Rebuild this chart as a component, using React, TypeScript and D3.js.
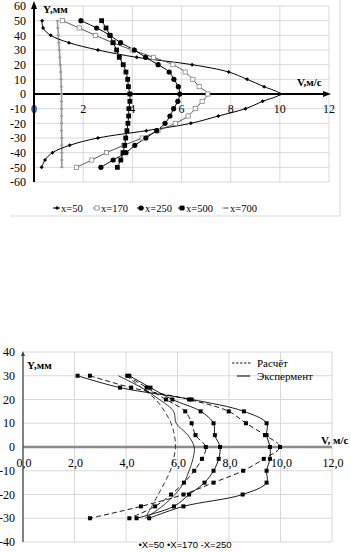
import React from "react";
import * as d3 from "d3";

// ---------- Top chart data ----------
const topY = [50, 45, 40, 35, 30, 25, 20, 15, 10, 5, 0, -5, -10, -15, -20, -25, -30, -35, -40, -45, -50];
const topX50 = [0.33, 0.37, 0.68, 1.42, 2.6, 4.18, 6.43, 7.92, 8.67, 9.36, 10.0, 9.3, 8.6, 7.5, 6.38, 4.57, 2.6, 1.45, 0.75, 0.45, 0.31];
const topX170 = [1.15, 1.84, 2.5, 3.2, 4.0, 4.86, 5.65, 6.15, 6.46, 6.72, 7.07, 6.84, 6.56, 6.27, 5.75, 5.04, 4.4, 3.65, 2.95, 2.35, 1.73];
const topX250 = [1.91, 2.55, 3.09, 3.52, 4.08, 4.54, 5.05, 5.5, 5.69, 5.87, 5.93, 5.85, 5.68, 5.53, 5.33, 4.99, 4.55, 4.1, 3.74, 3.22, 2.72];
const topX500 = [2.75, 2.93, 3.09, 3.22, 3.36, 3.47, 3.63, 3.74, 3.81, 3.84, 3.9, 3.9, 3.86, 3.85, 3.82, 3.78, 3.73, 3.69, 3.62, 3.53, 3.39];
const topX700 = [0.95, 0.97, 0.99, 1.01, 1.03, 1.05, 1.07, 1.09, 1.1, 1.11, 1.12, 1.12, 1.12, 1.12, 1.12, 1.12, 1.13, 1.13, 1.13, 1.13, 1.13];
const topXTicks = [0, 2, 4, 6, 8, 10, 12];
const topYTicks = [60, 50, 40, 30, 20, 10, 0, -10, -20, -30, -40, -50, -60];
const topLegend = ["x=50", "x=170", "x=250", "x=500", "x=700"];

// ---------- Bottom chart data ----------
const botY = [30, 25, 20, 15, 10, 5, 0, -5, -10, -15, -20, -25, -30];
const bot50Exp = [2.12, 3.77, 6.55, 8.58, 9.46, 9.46, 9.59, 9.59, 9.46, 9.46, 8.53, 6.23, 4.9];
const bot50Calc = [2.6, 4.2, 6.45, 7.99, 8.66, 9.4, 9.98, 9.35, 8.55, 7.4, 6.23, 4.58, 2.6];
const bot170Exp = [4.13, 4.95, 5.8, 6.9, 7.4, 7.45, 7.65, 7.6, 7.4, 7.05, 6.45, 5.86, 4.41];
const bot170Calc = [4.05, 4.8, 5.55, 6.3, 6.55, 6.7, 7.1, 6.95, 6.65, 6.25, 5.75, 5.13, 4.13];
const bot250Exp = [3.7, 4.6, 5.3, 5.85, 5.95, 6.4, 6.65, 6.6, 6.45, 6.25, 5.9, 5.4, 4.75];
const bot250Calc = [4.0, 4.6, 5.15, 5.5, 5.75, 5.88, 5.92, 5.85, 5.72, 5.5, 5.25, 5.0, 4.74];
const botXTicks = [0, 2, 4, 6, 8, 10, 12];
const botYTicks = [40, 30, 20, 10, 0, -10, -20, -30, -40];
const botLegend = ["Расчёт", "Экспермент"];
const botBottomLegend = "•X=50 •X=170 -X=250";

const SERIF = "'Liberation Serif', 'Times New Roman', serif";
const SANS = "'Liberation Sans', Arial, sans-serif";
const GRID = "#d9d9d9";

function pts(xs: number[], ys: number[]) {
  return xs.map((v, i) => [v, ys[i]] as [number, number]);
}

export default function App() {
  // top scales
  const tx = d3.scaleLinear().domain([0, 12]).range([34, 329]);
  const ty = d3.scaleLinear().domain([-60, 60]).range([182, 6]);
  const tline = d3
    .line<[number, number]>()
    .x((d) => tx(d[0]))
    .y((d) => ty(d[1]))
    .curve(d3.curveCatmullRom.alpha(0.5));

  // bottom scales
  const bx = d3.scaleLinear().domain([0, 12]).range([23, 332]);
  const by = d3.scaleLinear().domain([-40, 40]).range([542, 352]);
  const bline = d3
    .line<[number, number]>()
    .x((d) => bx(d[0]))
    .y((d) => by(d[1]))
    .curve(d3.curveCatmullRom.alpha(0.5));

  const diamond = (cx: number, cy: number, s: number, key: string, fill = "#000") => (
    <path key={key} d={`M${cx},${cy - s}L${cx + s},${cy}L${cx},${cy + s}L${cx - s},${cy}Z`} fill={fill} />
  );

  const t50 = pts(topX50, topY);
  const t170 = pts(topX170, topY);
  const t250 = pts(topX250, topY);
  const t500 = pts(topX500, topY);
  const t700 = pts(topX700, topY);

  const legX = [57, 97, 141, 182, 226];

  const b50e = pts(bot50Exp, botY);
  const b50c = pts(bot50Calc, botY);
  const b170e = pts(bot170Exp, botY);
  const b170c = pts(bot170Calc, botY);
  const b250e = pts(bot250Exp, botY);
  const b250c = pts(bot250Calc, botY);

  const sq = (d: [number, number], key: string, s = 2) => (
    <rect key={key} x={bx(d[0]) - s} y={by(d[1]) - s} width={2 * s} height={2 * s} fill="#000" />
  );

  return (
    <svg width={351} height={552} style={{ position: "absolute", left: 0, top: 0, background: "#fff" }}>
      {/* ================= TOP CHART ================= */}
      <g>
        <line x1={340} y1={0} x2={340} y2={216} stroke={GRID} />
        <line x1={10} y1={216} x2={340} y2={216} stroke={GRID} />
        {topXTicks.filter((v) => v > 0).map((v) => (
          <line key={"tgx" + v} x1={tx(v)} x2={tx(v)} y1={ty(60)} y2={ty(-60)} stroke={GRID} />
        ))}
        {topYTicks.map((v) => (
          <line key={"tgy" + v} x1={tx(0)} x2={tx(12)} y1={ty(v)} y2={ty(v)} stroke={GRID} />
        ))}
        {topYTicks.map((v) => (
          <text key={"tyl" + v} x={26} y={ty(v)} dy="0.35em" textAnchor="end" fontFamily={SERIF} fontSize={12}>
            {v}
          </text>
        ))}
        {topXTicks.map((v) => (
          <text key={"txl" + v} x={tx(v)} y={ty(-10)} dy="0.35em" textAnchor="middle" fontFamily={SERIF} fontSize={12}>
            {v}
          </text>
        ))}
        {/* axes */}
        <line x1={tx(0)} x2={tx(0)} y1={ty(-60)} y2={ty(60) - 1} stroke="#000" strokeWidth={2} />
        <path d={`M${tx(0)},${ty(60) - 5}L${tx(0) + 3},${ty(60) + 3}L${tx(0) - 3},${ty(60) + 3}Z`} fill="#000" />
        <line x1={tx(0)} x2={tx(12) - 4} y1={ty(0)} y2={ty(0)} stroke="#000" strokeWidth={2} />
        <path d={`M${tx(12) + 2},${ty(0)}L${tx(12) - 6},${ty(0) - 3}L${tx(12) - 6},${ty(0) + 3}Z`} fill="#000" />
        <text x={43} y={9} dy="0.35em" fontFamily={SERIF} fontSize={11} fontWeight="bold">Y,мм</text>
        <text x={297} y={82} dy="0.35em" fontFamily={SERIF} fontSize={11} fontWeight="bold">V,м/с</text>

        {/* series lines */}
        <path d={tline(t700) || ""} fill="none" stroke="#9a9a9a" strokeWidth={1.6} />
        <path d={tline(t50) || ""} fill="none" stroke="#000" strokeWidth={1} />
        <path d={tline(t170) || ""} fill="none" stroke="#555" strokeWidth={1} />
        <path d={tline(t250) || ""} fill="none" stroke="#000" strokeWidth={1} />
        <path d={tline(t500) || ""} fill="none" stroke="#000" strokeWidth={1} />

        {/* markers */}
        {t700.map((d, i) => (
          <rect key={"m700" + i} x={tx(d[0]) - 1.5} y={ty(d[1]) - 0.8} width={3} height={1.6} fill="#9a9a9a" />
        ))}
        {t50.map((d, i) => diamond(tx(d[0]), ty(d[1]), 2, "m50" + i))}
        {t170.map((d, i) => (
          <rect key={"m170" + i} x={tx(d[0]) - 2.1} y={ty(d[1]) - 2.1} width={4.2} height={4.2} fill="#fff" stroke="#888" strokeWidth={0.8} />
        ))}
        {t250.map((d, i) => (
          <circle key={"m250" + i} cx={tx(d[0])} cy={ty(d[1])} r={2.6} fill="#000" />
        ))}
        {t500.map((d, i) => (
          <rect key={"m500" + i} x={tx(d[0]) - 2.4} y={ty(d[1]) - 2.4} width={4.8} height={4.8} fill="#000" />
        ))}

        {/* legend */}
        {topLegend.map((name, i) => {
          const x = legX[i];
          const y = 208;
          let m: React.ReactNode = null;
          if (i === 0) m = diamond(x, y, 2, "lg0");
          if (i === 1) m = <rect x={x - 2.1} y={y - 2.1} width={4.2} height={4.2} fill="#fff" stroke="#888" strokeWidth={0.8} />;
          if (i === 2) m = <circle cx={x} cy={y} r={2.6} fill="#000" />;
          if (i === 3) m = <rect x={x - 2.4} y={y - 2.4} width={4.8} height={4.8} fill="#000" />;
          if (i === 4) m = <rect x={x - 2} y={y - 0.8} width={4} height={1.6} fill="#9a9a9a" />;
          return (
            <g key={"tl" + i}>
              <line x1={x - 4} x2={x + 3} y1={y} y2={y} stroke={i === 4 ? "#9a9a9a" : i === 1 ? "#777" : "#000"} strokeWidth={1} />
              {m}
              <text x={x + 4} y={y} dy="0.35em" fontFamily={SERIF} fontSize={10.5}>{name}</text>
            </g>
          );
        })}
      </g>

      {/* ================= BOTTOM CHART ================= */}
      <g>
        {botXTicks.filter((v) => v > 0).map((v) => (
          <line key={"bgx" + v} x1={bx(v)} x2={bx(v)} y1={by(40)} y2={by(-40)} stroke={GRID} />
        ))}
        {botYTicks.map((v) => (
          <line key={"bgy" + v} x1={bx(0)} x2={bx(12)} y1={by(v)} y2={by(v)} stroke={GRID} />
        ))}
        {botYTicks.map((v) => (
          <text key={"byl" + v} x={15} y={by(v)} dy="0.35em" textAnchor="end" fontFamily={SERIF} fontSize={12}>
            {v}
          </text>
        ))}
        {botXTicks.map((v) => (
          <text key={"bxl" + v} x={bx(v) + 1} y={by(-6.7)} dy="0.35em" textAnchor="middle" fontFamily={SERIF} fontSize={12}>
            {d3.format(".1f")(v).replace(".", ",")}
          </text>
        ))}
        {/* axes */}
        <line x1={bx(0)} x2={bx(12)} y1={by(0)} y2={by(0)} stroke="#8c8c8c" strokeWidth={2.6} />
        <line x1={bx(0)} x2={bx(0)} y1={by(-40)} y2={by(40) + 2} stroke="#404040" strokeWidth={1.3} />
        <path d={`M${bx(0)},${by(40) - 1}L${bx(0) + 2},${by(40) + 4}L${bx(0) - 2},${by(40) + 4}Z`} fill="#404040" />
        <text x={27} y={365} dy="0.35em" fontFamily={SERIF} fontSize={11} fontWeight="bold">Y,мм</text>
        <text x={321} y={440} dy="0.35em" fontFamily={SERIF} fontSize={11} fontWeight="bold">V, м/с</text>

        {/* curves */}
        <path d={bline(b250c) || ""} fill="none" stroke="#222" strokeWidth={0.9} strokeDasharray="5,3" />
        <path d={bline(b250e) || ""} fill="none" stroke="#222" strokeWidth={0.9} />
        <path d={bline(b170c) || ""} fill="none" stroke="#000" strokeWidth={0.9} strokeDasharray="5,3" />
        <path d={bline(b170e) || ""} fill="none" stroke="#000" strokeWidth={0.9} />
        <path d={bline(b50c) || ""} fill="none" stroke="#000" strokeWidth={0.9} strokeDasharray="5,3" />
        <path d={bline(b50e) || ""} fill="none" stroke="#000" strokeWidth={0.9} />
        {b170c.map((d, i) => sq(d, "s170c" + i))}
        {b170e.map((d, i) => sq(d, "s170e" + i))}
        {b50c.map((d, i) => sq(d, "s50c" + i))}
        {b50e.map((d, i) => sq(d, "s50e" + i))}

        {/* legend top right */}
        <line x1={232} x2={252} y1={363} y2={363} stroke="#000" strokeWidth={0.9} strokeDasharray="2.5,1.5" />
        <text x={257} y={363} dy="0.35em" fontFamily={SERIF} fontSize={11}>{botLegend[0]}</text>
        <line x1={237} x2={250} y1={376} y2={376} stroke="#000" strokeWidth={1} />
        <text x={257} y={376} dy="0.35em" fontFamily={SERIF} fontSize={11}>{botLegend[1]}</text>

        {/* bottom legend */}
        <text x={185} y={545} dy="0.35em" textAnchor="middle" fontFamily={SANS} fontSize={9.5}>{botBottomLegend}</text>
      </g>
    </svg>
  );
}
